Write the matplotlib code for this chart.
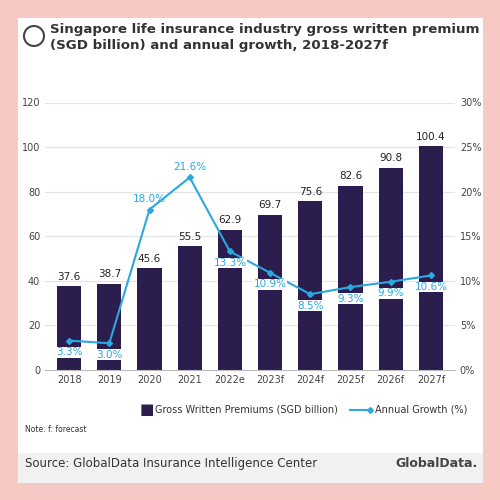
import matplotlib

matplotlib.use("Agg")
import matplotlib.pyplot as plt
from matplotlib.patches import Circle, Rectangle
from matplotlib.ticker import FuncFormatter

YEARS = ["2018", "2019", "2020", "2021", "2022e", "2023f", "2024f", "2025f", "2026f", "2027f"]
PREMIUMS = [37.6, 38.7, 45.6, 55.5, 62.9, 69.7, 75.6, 82.6, 90.8, 100.4]
GROWTH = [3.3, 3.0, 18.0, 21.6, 13.3, 10.9, 8.5, 9.3, 9.9, 10.6]

NAVY = "#2b1d4e"
BLUE = "#2aa8e0"

fig = plt.figure(figsize=(5, 5), dpi=100)
fig.patch.set_facecolor("#f6c9c4")
fig.add_artist(Rectangle((0.035, 0.035), 0.93, 0.93, transform=fig.transFigure,
                         facecolor="white", edgecolor="none", zorder=0))
fig.add_artist(Rectangle((0.035, 0.035), 0.93, 0.06, transform=fig.transFigure,
                         facecolor="#f1f1f1", edgecolor="none", zorder=0))

fig.text(0.1, 0.925, "Singapore life insurance industry gross written premium\n"
         "(SGD billion) and annual growth, 2018-2027f",
         fontsize=9.6, fontweight="bold", color="#333333", va="center", linespacing=1.35)
# small logo mark left of the title
fig.add_artist(Circle((0.068, 0.928), 0.02, transform=fig.transFigure,
                      facecolor="none", edgecolor="#444444", lw=1.5))

ax = fig.add_axes([0.09, 0.26, 0.82, 0.535])
x = range(len(YEARS))
ax.bar(x, PREMIUMS, width=0.6, color=NAVY, zorder=2)
for i, v in enumerate(PREMIUMS):
    ax.text(i, v + 2, f"{v:.1f}", ha="center", va="bottom", fontsize=7.5, color="#222222")
ax.set_ylim(0, 120)
ax.set_yticks(range(0, 121, 20))
ax.set_xlim(-0.6, len(YEARS) - 0.4)
ax.set_xticks(list(x))
ax.set_xticklabels(YEARS)
ax.tick_params(labelsize=7, colors="#444444", length=0)
ax.grid(axis="y", color="#e4e4e4", lw=0.8, zorder=0)
for s in ["top", "right", "left"]:
    ax.spines[s].set_visible(False)
ax.spines["bottom"].set_color("#bbbbbb")

ax2 = ax.twinx()
ax2.plot(list(x), GROWTH, color=BLUE, marker="D", markersize=3, lw=1.5, zorder=3)
for i, g in enumerate(GROWTH):
    dy = 1.2 if i in (2, 3) else -1.3
    ax2.text(i, g + dy, f"{g:.1f}%", ha="center", va="center", fontsize=7.5, color=BLUE,
             bbox=dict(facecolor="white", edgecolor="none", pad=0.3) if dy < 0 else None)
ax2.set_ylim(0, 30)
ax2.set_yticks(range(0, 31, 5))
ax2.yaxis.set_major_formatter(FuncFormatter(lambda v, _: f"{v:.0f}%"))
ax2.tick_params(labelsize=7, colors="#444444", length=0)
for s in ["top", "right", "left", "bottom"]:
    ax2.spines[s].set_visible(False)

fig.text(0.28, 0.18, "\u25a0", color=NAVY, fontsize=11, va="center")
fig.text(0.31, 0.18, "Gross Written Premiums (SGD billion)", fontsize=7, va="center", color="#333333")
ax2.plot([0.70, 0.74], [0.18, 0.18], color=BLUE, lw=1.5, marker="D", markersize=3,
         markevery=[1], transform=fig.transFigure, clip_on=False)
fig.text(0.75, 0.18, "Annual Growth (%)", fontsize=7, va="center", color="#333333")
fig.text(0.05, 0.135, "Note: f: forecast", fontsize=5.5, color="#333333")
fig.text(0.05, 0.073, "Source: GlobalData Insurance Intelligence Center", fontsize=8.5,
         color="#333333", va="center")
fig.text(0.955, 0.073, "GlobalData.", fontsize=9, fontweight="bold", color="#444444",
         va="center", ha="right")

fig.savefig("out.png", dpi=100, facecolor=fig.get_facecolor())
